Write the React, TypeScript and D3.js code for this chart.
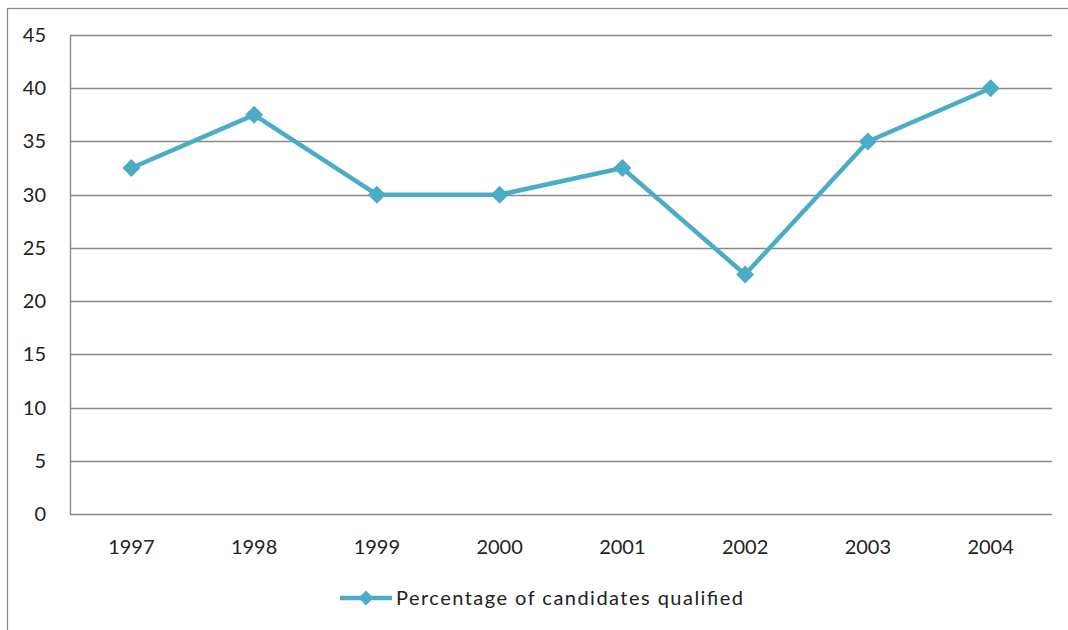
import { useMemo } from 'react'
import * as d3 from 'd3'

const years = ['1997', '1998', '1999', '2000', '2001', '2002', '2003', '2004']
const qualified = [32.5, 37.5, 30, 30, 32.5, 22.5, 35, 40]
const yTicks = [0, 5, 10, 15, 20, 25, 30, 35, 40, 45]
const seriesName = 'Percentage of candidates qualified'

const W = 1068
const H = 630
const FONT = 'Lato, "Open Sans", sans-serif'
const LINE = '#4BACC6'

function diamond(cx: number, cy: number, r: number) {
  return `M${cx},${cy - r}L${cx + r},${cy}L${cx},${cy + r}L${cx - r},${cy}Z`
}

export default function App() {
  const plot = { left: 70, top: 35, right: 1052, bottom: 514 }

  const x = useMemo(
    () => d3.scaleBand<string>().domain(years).range([plot.left, plot.right]),
    []
  )
  const y = useMemo(() => d3.scaleLinear().domain([0, 45]).range([plot.bottom, plot.top]), [])

  const line = d3
    .line<number>()
    .x((_, i) => (x(years[i]) ?? 0) + x.bandwidth() / 2)
    .y((d) => y(d))

  return (
    <svg
      width={W}
      height={H}
      viewBox={`0 0 ${W} ${H}`}
      style={{ position: 'absolute', left: 0, top: 0, background: '#fff' }}
    >
      {/* chart frame, runs off the right and bottom edges */}
      <rect x={7.5} y={8.5} width={W + 10} height={H + 10} fill="#fff" stroke="#8c8c8c" strokeWidth={1.3} />

      {yTicks.map((t) => (
        <g key={t}>
          <line
            x1={plot.left}
            x2={plot.right}
            y1={Math.round(y(t)) + 0.5}
            y2={Math.round(y(t)) + 0.5}
            stroke="#888"
            strokeWidth={1.4}
          />
          <text
            x={46}
            y={y(t)}
            dy="0.35em"
            textAnchor="end"
            fontFamily={FONT}
            fontSize={20}
            fill="#222"
          >
            {t}
          </text>
        </g>
      ))}
      <line x1={plot.left + 0.5} x2={plot.left + 0.5} y1={plot.top} y2={plot.bottom + 1} stroke="#888" strokeWidth={1.4} />

      {years.map((yr) => (
        <text
          key={yr}
          x={(x(yr) ?? 0) + x.bandwidth() / 2}
          y={547}
          dy="0.35em"
          textAnchor="middle"
          fontFamily={FONT}
          fontSize={20}
          fill="#222"
        >
          {yr}
        </text>
      ))}

      <path d={line(qualified) ?? ''} fill="none" stroke={LINE} strokeWidth={4.5} strokeLinejoin="round" />
      {qualified.map((v, i) => (
        <path key={i} d={diamond((x(years[i]) ?? 0) + x.bandwidth() / 2, y(v), 9)} fill={LINE} />
      ))}

      <g>
        <line x1={340} x2={392} y1={598} y2={598} stroke={LINE} strokeWidth={4.5} />
        <path d={diamond(366, 598, 7.5)} fill={LINE} />
        <text
          x={396}
          y={598}
          dy="0.35em"
          fontFamily={FONT}
          fontSize={20}
          fill="#222"
          textLength={347}
          lengthAdjust="spacing"
        >
          {seriesName}
        </text>
      </g>
    </svg>
  )
}
